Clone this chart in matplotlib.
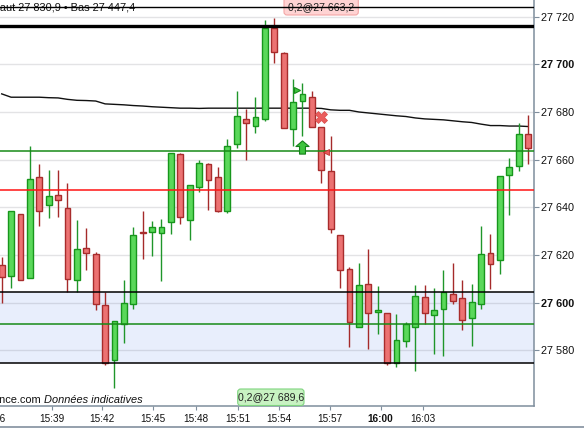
import matplotlib
matplotlib.use('Agg')
import matplotlib.pyplot as plt
import numpy as np
from matplotlib.patches import FancyBboxPatch
from matplotlib.lines import Line2D
from matplotlib.path import Path

# ---------------- data ----------------
opens = [27615.8, 27611.1, 27637.1, 27610.2, 27652.6, 27640.9, 27645.1, 27639.6, 27609.3, 27622.8,
         27620.4, 27598.9, 27575.8, 27590.9, 27599.3, 27629.5, 27629.5, 27629.1, 27633.7, 27662.3,
         27634.6, 27648.7, 27658.1, 27652.6, 27638.5, 27666.5, 27677.0, 27674.3, 27676.9, 27715.3,
         27704.6, 27672.7, 27684.5, 27686.2, 27673.6, 27655.2, 27628.3, 27614.0, 27589.7, 27607.7,
         27596.2, 27595.5, 27574.6, 27583.8, 27589.7, 27602.2, 27594.7, 27597.2, 27603.5, 27601.8,
         27593.4, 27599.3, 27620.7, 27617.8, 27653.4, 27657.5, 27670.7]
highs = [27619.3, 27638.3, 27637.1, 27665.7, 27658.2, 27655.7, 27655.7, 27650.2, 27634.7, 27631.3,
         27621.3, 27604.6, 27592.2, 27609.5, 27631.6, 27638.5, 27634.3, 27635.1, 27662.7, 27662.8,
         27649.2, 27659.9, 27658.5, 27656.9, 27668.7, 27688.8, 27681.1, 27686.2, 27718.6, 27719.3,
         27705.1, 27693.7, 27692.1, 27689.0, 27673.6, 27669.9, 27628.3, 27615.0, 27616.6, 27622.5,
         27607.0, 27595.5, 27595.2, 27591.9, 27607.4, 27607.4, 27606.2, 27613.7, 27616.6, 27609.5,
         27607.8, 27632.2, 27628.8, 27653.0, 27660.6, 27675.3, 27678.7]
lows = [27599.7, 27606.0, 27609.4, 27610.2, 27632.3, 27635.7, 27636.1, 27604.3, 27604.6, 27613.7,
        27596.9, 27573.8, 27564.3, 27583.2, 27597.3, 27618.4, 27619.6, 27609.2, 27628.9, 27633.1,
        27626.4, 27646.6, 27638.9, 27638.2, 27637.6, 27665.0, 27659.9, 27671.3, 27676.4, 27700.4,
        27673.2, 27665.7, 27670.1, 27673.8, 27650.3, 27629.1, 27606.0, 27581.5, 27589.7, 27580.7,
        27587.0, 27574.0, 27573.1, 27581.3, 27571.4, 27591.0, 27578.6, 27577.7, 27599.3, 27588.4,
        27581.9, 27597.2, 27605.6, 27611.9, 27636.7, 27655.4, 27658.1]
closes = [27610.6, 27638.3, 27609.4, 27651.8, 27638.3, 27644.6, 27643.0, 27609.7, 27622.4, 27620.7,
          27599.3, 27574.6, 27592.2, 27599.7, 27628.3, 27629.1, 27631.6, 27631.6, 27662.7, 27635.8,
          27649.2, 27658.5, 27651.3, 27638.6, 27665.9, 27678.2, 27675.3, 27677.8, 27715.1, 27705.1,
          27673.2, 27684.1, 27687.4, 27673.8, 27655.5, 27630.8, 27613.6, 27591.8, 27607.3, 27595.5,
          27596.8, 27574.6, 27584.2, 27590.9, 27602.7, 27595.5, 27596.8, 27604.3, 27600.6, 27592.6,
          27600.2, 27620.3, 27616.1, 27653.0, 27656.8, 27670.7, 27664.8]
moving_avg = [27687.6, 27686.2, 27686.2, 27686.2, 27686.2, 27686.0, 27685.9, 27685.3, 27684.9, 27684.8,
              27684.6, 27683.4, 27683.2, 27683.0, 27682.7, 27682.5, 27682.2, 27682.0, 27681.8, 27681.6,
              27681.6, 27681.5, 27681.6, 27681.6, 27681.6, 27681.6, 27681.6, 27681.6, 27681.6, 27681.6,
              27681.6, 27681.6, 27681.6, 27681.6, 27681.5, 27680.9, 27680.7, 27680.7, 27680.0, 27679.6,
              27679.2, 27678.8, 27678.4, 27678.1, 27677.5, 27677.1, 27676.9, 27676.7, 27676.3, 27675.9,
              27675.6, 27674.9, 27674.3, 27674.3, 27674.1, 27674.1, 27673.9]

x_tick_pos = [5.38, 10.70, 16.13, 20.64, 25.11, 29.53, 34.93, 40.32, 44.79]
x_tick_labels = ['15:39', '15:42', '15:45', '15:48', '15:51', '15:54', '15:57', '16:00', '16:03']
x_bold_labels = ['16:00']
y_ticks = [27580, 27600, 27620, 27640, 27660, 27680, 27700, 27720]
y_tick_labels = ['27 580', '27 600', '27 620', '27 640', '27 660', '27 680', '27 700', '27 720']
y_bold_labels = ['27 600', '27 700']

level_top_thin = 27724.1
level_top_thick = 27716.1
level_green_high = 27663.5
level_red = 27647.1
band_top = 27604.6
band_bottom = 27574.5
level_green_low = 27591.0

buy_marker = (31.4, 27689.4)
arrow_marker = (32.0, 27665.5)
cross_marker = (34.0, 27677.7)
sell_marker = (34.45, 27663.3)

header_text = 'Haut 27 830,9 \u2022 Bas 27 447,4'
order_label_top = '0,2@27 663,2'
order_label_bottom = '0,2@27 689,6'
source_text = 'ance.com'
source_note = 'Donn\u00e9es indicatives'

# ---------------- figure ----------------
W, H = 584, 428
plt.rcParams['font.family'] = ['Liberation Sans', 'DejaVu Sans']
fig = plt.figure(figsize=(W / 100, H / 100), dpi=100)
fig.patch.set_facecolor('white')
ax = fig.add_axes([0, 22 / H, 534 / W, 406 / H])
ax.set_facecolor('white')

n = len(opens)
idx = np.arange(n)
ax.set_xlim(-0.181, 56.63)
ax.set_ylim(27556.6, 27727.0)

# band and grid
ax.axhspan(band_bottom, band_top, color='#e8eefc', zorder=0, lw=0)
for v in y_ticks:
    ax.axhline(v, color=(0.45, 0.45, 0.5, 0.2), lw=1.0, zorder=0.5)

# moving average
ax.plot(idx, moving_avg, color='#111111', lw=1.0, zorder=2)

# candles
o = np.array(opens); c = np.array(closes); h = np.array(highs); l = np.array(lows)
up = c >= o
wick_col = np.where(up, '#1f962a', '#a52a2a')
ax.vlines(idx, l, h, colors=wick_col, lw=1.0, zorder=3)
body_bottom = np.minimum(o, c)
body_h = np.maximum(np.abs(c - o), 0.35)
face = np.where(up, '#5ad85a', '#ec7272')
edge = np.where(up, '#17961c', '#a82c2c')
ax.bar(idx, body_h, bottom=body_bottom, width=0.62, color=face, edgecolor=edge,
       linewidth=1.0, zorder=3.5)

# level lines
ax.axhline(level_top_thin, color='black', lw=1.0, zorder=5)
ax.axhline(level_top_thick, color='black', lw=2.4, zorder=5)
ax.axhline(level_green_high, color='#178a17', lw=1.1, zorder=5)
ax.axhline(level_red, color='#ff1414', lw=1.1, zorder=5)
ax.axhline(band_top, color='black', lw=1.1, zorder=5)
ax.axhline(band_bottom, color='black', lw=1.1, zorder=5)
ax.axhline(level_green_low, color='#178a17', lw=1.1, zorder=5)

# markers
ax.plot(*buy_marker, marker='>', ms=5, color='#3ec43e', mec='#178a17', mew=0.8, zorder=6)
arrow = Path([(0, 1), (-1, 0.15), (-0.45, 0.15), (-0.45, -1), (0.45, -1), (0.45, 0.15), (1, 0.15), (0, 1)],
             closed=True)
ax.plot(*arrow_marker, marker=arrow, ms=9.5, color='#3ec43e', mec='#14801a', mew=0.8, zorder=6)
ax.plot(*cross_marker, marker='X', ms=8.5, color='#ea5c5c', mec='#d84848', mew=0.5, zorder=6)
ax.plot(*sell_marker, marker='<', ms=4, color='#e85a5a', mec='#c03030', mew=0.6, zorder=6)

# axes styling
for s in ['top', 'left']:
    ax.spines[s].set_visible(False)
for s in ['right', 'bottom']:
    ax.spines[s].set_color('#7f8e9d')
    ax.spines[s].set_linewidth(1.1)
ax.yaxis.tick_right()
ax.set_yticks(y_ticks)
ax.set_yticklabels(y_tick_labels)
ax.tick_params(axis='y', direction='out', length=3.6, width=0.8, color='#7f8e9d',
               labelsize=7.8, pad=1.5, labelcolor='#111111')
for lab in ax.get_yticklabels():
    if lab.get_text() in y_bold_labels:
        lab.set_fontweight('bold')
ax.set_xticks(x_tick_pos)
ax.set_xticklabels(x_tick_labels)
ax.tick_params(axis='x', direction='out', length=3.0, width=0.8, color='#7f8e9d',
               labelsize=7.2, pad=2.5, labelcolor='#111111')
for lab in ax.get_xticklabels():
    if lab.get_text() in x_bold_labels:
        lab.set_fontweight('bold')

# helper: pixel coords (top-left origin) -> inches
T = fig.dpi_scale_trans
def P(x, y):
    return x / 100, (H - y) / 100

# cut tick label at left
fig.text(*P(-6.7, 419), '15:36', transform=T, ha='center', va='center', fontsize=7.2, color='#111111')

# header text (struck by the thin line)
ax.text(*P(-8, 7.5), header_text, transform=T, ha='left', va='center', fontsize=7.9,
        color='#111111', zorder=1, clip_on=False)

# top order label
bx0, by0 = P(284, 15)
box = FancyBboxPatch((bx0, by0), 0.743, 0.2, boxstyle='round,pad=0,rounding_size=0.03',
                     transform=T, facecolor='#ffd3d3', edgecolor='#f3a6a6', lw=0.8, zorder=1, clip_on=False)
ax.add_patch(box)
ax.text(*P(321, 7.5), order_label_top, transform=T, ha='center', va='center', fontsize=7.6,
        color='#222222', zorder=1.2, clip_on=False)

# bottom order label
gx0, gy0 = P(237.7, 405.5)
gbox = FancyBboxPatch((gx0, gy0), 0.663, 0.165, boxstyle='round,pad=0,rounding_size=0.03',
                      transform=T, facecolor='#c8f2c2', edgecolor='#7fd47f', lw=0.8, zorder=6, clip_on=False)
ax.add_patch(gbox)
ax.text(*P(271, 397.5), order_label_bottom, transform=T, ha='center', va='center', fontsize=7.6,
        color='#222222', zorder=6.5, clip_on=False)

# source note
ax.text(*P(41.5, 400), source_text, transform=T, ha='right', va='center', fontsize=7.9,
        color='#111111', zorder=6, clip_on=False)
ax.text(*P(44.5, 400), source_note, transform=T, ha='left', va='center', fontsize=7.9,
        style='italic', color='#111111', zorder=6, clip_on=False)

# bottom figure border line
fig.add_artist(Line2D([0, 1], [1.5 / H, 1.5 / H], color='#8c99a6', lw=1.3))

fig.savefig('out.png', dpi=100, facecolor='white')
